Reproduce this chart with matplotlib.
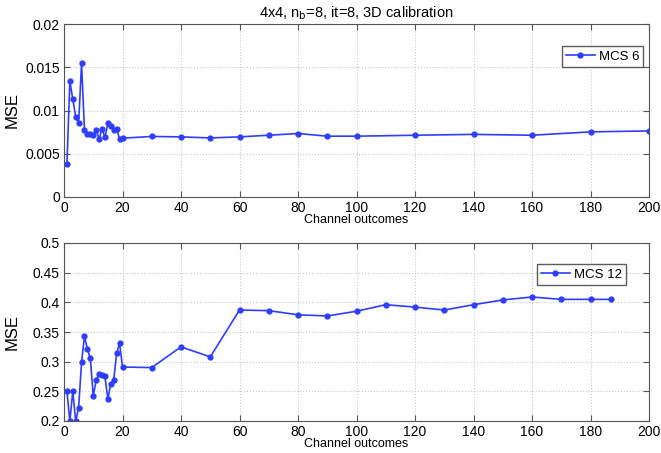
import matplotlib.pyplot as plt
import numpy as np

plt.rcParams["font.family"] = ["Liberation Sans", "DejaVu Sans"]

# MCS 6 data
X_TOP = list(range(1, 21)) + [30, 40, 50, 60, 70, 80, 90, 100, 120, 140, 160, 180, 200]
MSE_MCS6 = [0.0038, 0.0134, 0.0113, 0.0093, 0.0085, 0.0155, 0.0077, 0.0073,
            0.0073, 0.0072, 0.0078, 0.0067, 0.0079, 0.0069, 0.0085, 0.0082,
            0.0078, 0.0079, 0.0067, 0.0068,
            0.0070, 0.00695, 0.00683, 0.00695, 0.00714, 0.00734, 0.00703,
            0.00703, 0.00714, 0.00724, 0.00714, 0.00753, 0.00764]

# MCS 12 data
X_BOT = list(range(1, 21)) + [30, 40, 50, 60, 70, 80, 90, 100, 110, 120,
                              130, 140, 150, 160, 170, 180, 187]
MSE_MCS12 = [0.250, 0.200, 0.250, 0.200, 0.222, 0.299, 0.343, 0.321, 0.306,
             0.242, 0.269, 0.280, 0.278, 0.275, 0.237, 0.263, 0.269, 0.314,
             0.331, 0.291,
             0.290, 0.325, 0.308, 0.387, 0.386, 0.379, 0.377, 0.385, 0.396,
             0.392, 0.387, 0.396, 0.404, 0.409, 0.405, 0.405, 0.405]

LINE_COLOR = "#2f3dff"
SPINE_COLOR = "#555555"

fig = plt.figure(figsize=(6.61, 4.53), dpi=100)
ax1 = fig.add_axes([64 / 661, 1 - 197 / 453, 585 / 661, 173 / 453])
ax2 = fig.add_axes([64 / 661, 1 - 421 / 453, 585 / 661, 178 / 453])


def style(ax):
    ax.grid(True, linestyle=":", color="#c8c8c8", linewidth=0.8)
    ax.tick_params(direction="in", top=True, right=True, labelsize=10,
                   length=4, color=SPINE_COLOR, pad=3)
    for s in ax.spines.values():
        s.set_color(SPINE_COLOR)
        s.set_linewidth(0.8)
    ax.set_xlim(0, 200)
    ax.set_xticks(np.arange(0, 201, 20))
    ax.set_xlabel("Channel outcomes", fontsize=9, labelpad=-1)
    ax.set_ylabel("MSE", fontsize=12)
    ax.yaxis.set_label_coords(-0.075, 0.5)


ax1.plot(X_TOP, MSE_MCS6, "-", marker=".", markersize=7, color=LINE_COLOR,
         linewidth=1.2, label="MCS 6")
style(ax1)
ax1.set_ylim(0, 0.02)
ax1.set_yticks([0, 0.005, 0.01, 0.015, 0.02])
ax1.set_yticklabels(["0", "0.005", "0.01", "0.015", "0.02"])
ax1.set_title(r"4x4, n$_\mathrm{b}$=8, it=8, 3D calibration", fontsize=10.5, pad=5)
ax1.legend(loc="upper right", bbox_to_anchor=(0.99, 0.87), fontsize=9.5,
           fancybox=False, edgecolor="#333333", borderpad=0.3,
           handlelength=2.2, handletextpad=0.3, borderaxespad=0)

ax2.plot(X_BOT, MSE_MCS12, "-", marker=".", markersize=7, color=LINE_COLOR,
         linewidth=1.2, label="MCS 12")
style(ax2)
ax2.set_ylim(0.2, 0.5)
ax2.set_yticks([0.2, 0.25, 0.3, 0.35, 0.4, 0.45, 0.5])
ax2.set_yticklabels(["0.2", "0.25", "0.3", "0.35", "0.4", "0.45", "0.5"])
ax2.legend(loc="upper right", bbox_to_anchor=(0.96, 0.88), fontsize=9.5,
           fancybox=False, edgecolor="#333333", borderpad=0.3,
           handlelength=2.2, handletextpad=0.3, borderaxespad=0)

fig.savefig("out.png", dpi=100)
